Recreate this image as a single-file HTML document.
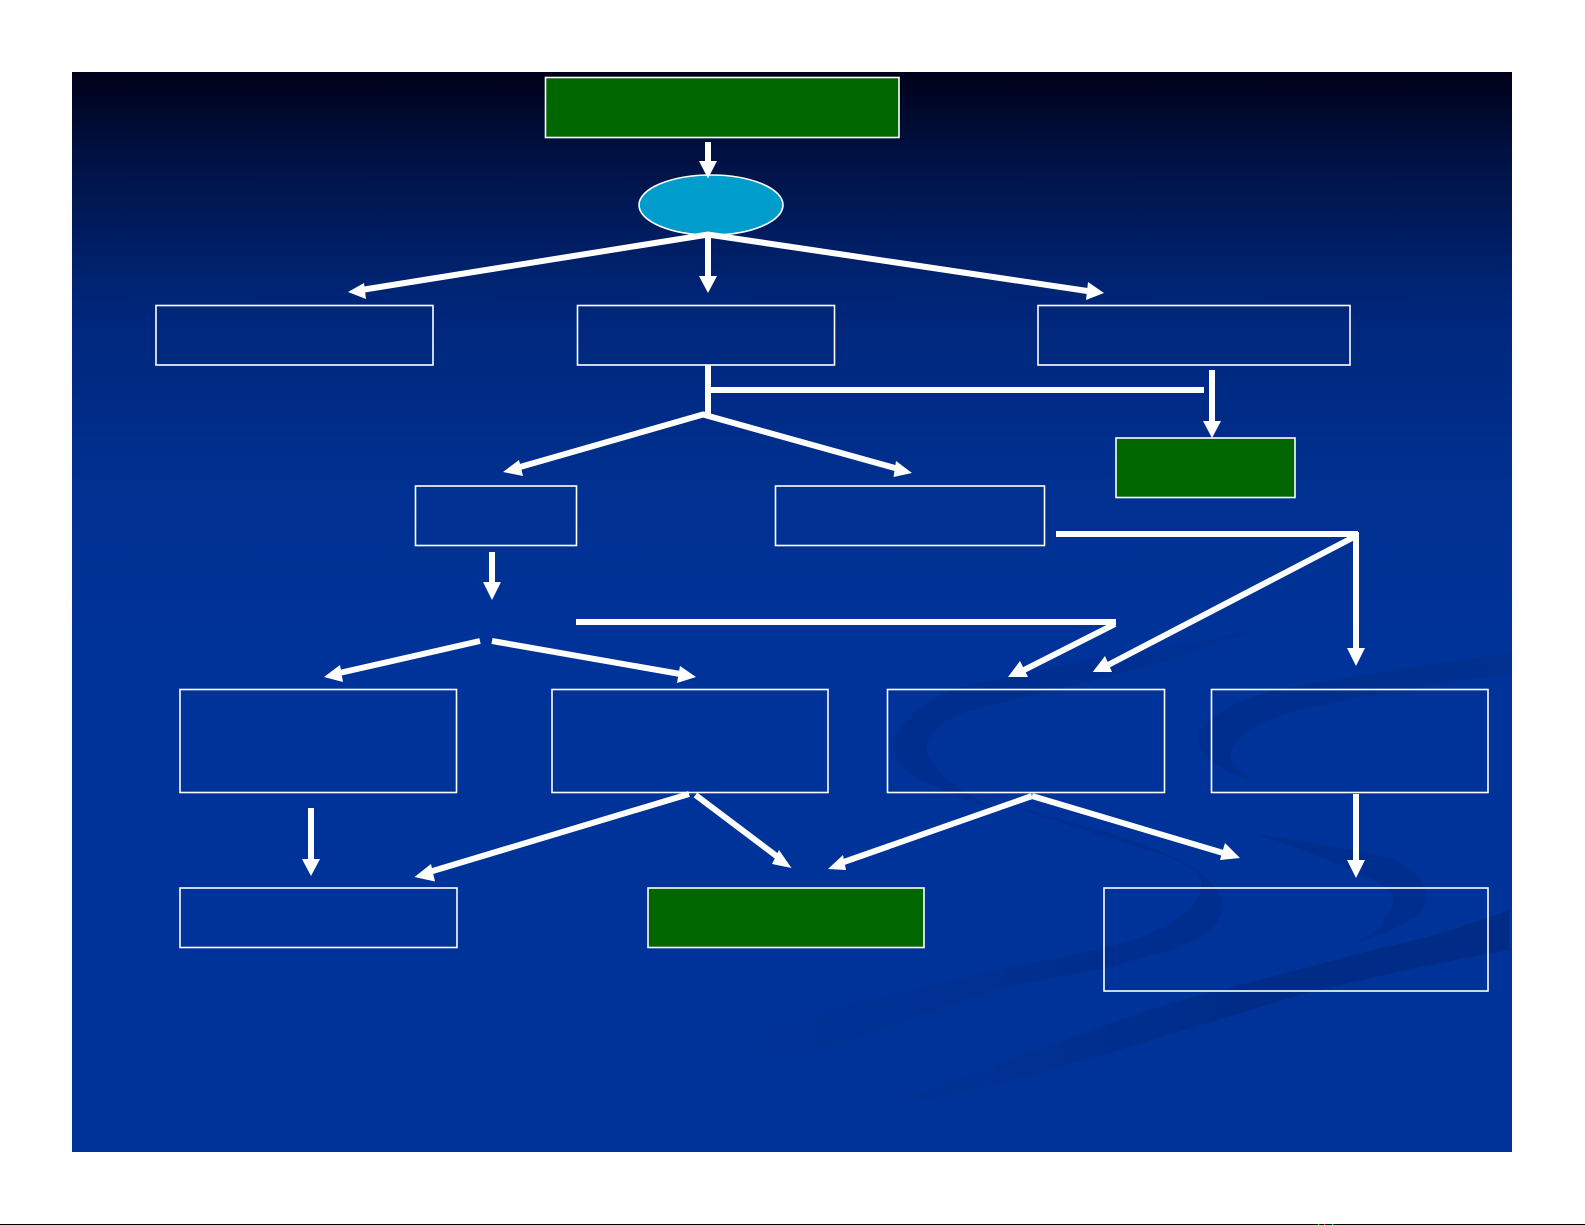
<!DOCTYPE html>
<html><head><meta charset="utf-8"><style>html,body{margin:0;padding:0;background:#fff}svg{display:block}</style></head><body>
<svg width="1585" height="1225" viewBox="0 0 1585 1225" xmlns="http://www.w3.org/2000/svg">
<defs><linearGradient id="bg" gradientUnits="userSpaceOnUse" x1="0" y1="72" x2="0" y2="1152">
<stop offset="0" stop-color="#000018"/><stop offset="0.07" stop-color="#00103f"/><stop offset="0.216" stop-color="#00267a"/><stop offset="0.38" stop-color="#003090"/><stop offset="0.53" stop-color="#003399"/><stop offset="1" stop-color="#003399"/></linearGradient>
<linearGradient id="fa" gradientUnits="userSpaceOnUse" x1="1512" y1="0" x2="1300" y2="0"><stop offset="0" stop-color="#00318f"/><stop offset="1" stop-color="#002e8e"/></linearGradient>
<linearGradient id="fe" gradientUnits="userSpaceOnUse" x1="0" y1="600" x2="0" y2="690"><stop offset="0" stop-color="#003298"/><stop offset="1" stop-color="#002e8f"/></linearGradient>
<linearGradient id="fb" gradientUnits="userSpaceOnUse" x1="1100" y1="0" x2="740" y2="0"><stop offset="0" stop-color="#002e8e"/><stop offset="1" stop-color="#003399"/></linearGradient>
<linearGradient id="fd" gradientUnits="userSpaceOnUse" x1="1250" y1="0" x2="860" y2="0"><stop offset="0" stop-color="#002c88"/><stop offset="1" stop-color="#003399"/></linearGradient>
</defs>
<rect width="1585" height="1225" fill="#fff"/>
<rect x="72" y="72" width="1440" height="1080" fill="url(#bg)"/>
<path d="M1512 652C1400 670 1340 678 1289 687C1250 695 1198 715 1198 740C1198 758 1230 775 1256 782C1240 772 1231 765 1231 757C1231 735 1260 722 1289 713C1340 700 1400 690 1512 673Z" fill="url(#fa)"/>
<path d="M1342 593C1290 615 1250 630 1248 630C1190 645 1130 650 1084 660L962 687C925 697 894 725 894 747C894 765 915 778 921 780C945 792 975 803 998 810C975 798 940 782 927 753C925 735 945 722 962 713L1084 683C1130 672 1170 660 1207 647C1270 625 1310 610 1342 593Z" fill="url(#fe)"/>
<path d="M713 1047C800 1015 880 995 951 980C1030 962 1100 952 1140 937C1180 922 1201 905 1201 883C1201 868 1175 858 1146 850L975 795C1040 812 1080 825 1110 833C1160 850 1222 870 1222 907C1222 925 1205 937 1189 943C1160 955 1130 960 1110 967C1050 980 1020 983 987 993C920 1015 850 1040 792 1060Z" fill="url(#fb)"/>
<path d="M1250 833C1310 842 1370 852 1396 860C1415 870 1427 885 1427 897C1427 910 1415 918 1409 920C1395 930 1375 937 1357 942C1370 935 1384 927 1384 920C1392 910 1393 905 1393 897C1393 888 1380 882 1366 877C1330 860 1290 845 1250 833Z" fill="#002e8e"/>
<path d="M1509 910C1460 928 1420 940 1384 947L1171 1003C1100 1025 1000 1065 926 1090L800 1125L926 1100C1000 1085 1050 1070 1110 1053L1293 997C1380 975 1450 960 1509 950Z" fill="url(#fd)"/>
<g fill="none" stroke="#fff" stroke-width="1.6">
<rect x="545.5" y="77.500" width="353.500" height="60" fill="#006600"/>
<ellipse cx="711" cy="205" rx="72" ry="30" fill="#009ccc"/>
<rect x="156" y="305.500" width="277" height="59.500"/>
<rect x="577.500" y="305.500" width="257" height="59.500"/>
<rect x="1038" y="305.500" width="312" height="59.500"/>
<rect x="1116" y="438" width="179" height="59.500" fill="#006600"/>
<rect x="415.500" y="486" width="161" height="59.500"/>
<rect x="775.500" y="486" width="269" height="59.500"/>
<rect x="180" y="689.500" width="276.500" height="103"/>
<rect x="552" y="689.500" width="276" height="103"/>
<rect x="887.500" y="689.500" width="277" height="103"/>
<rect x="1211.500" y="689.500" width="276.500" height="103"/>
<rect x="180" y="888" width="277" height="59.500"/>
<rect x="648" y="888" width="276" height="59.500" fill="#006600"/>
<rect x="1104" y="888" width="384" height="103"/>
</g>
<g fill="none" stroke="#fff" stroke-width="6">
<path d="M708 142V164"/>
<path d="M358 290.500L708 234.500L1094 292"/>
<path d="M708 233V278"/>
<path d="M708 365V414"/>
<path d="M708 390H1204"/>
<path d="M1212 370V423"/>
<path d="M513 469L703 414.500L902 470"/>
<path d="M492 552V584"/>
<path d="M576 622H1116"/>
<path d="M1056 534H1358"/>
<path d="M1356 532V650"/>
<path d="M1354 537L1108 665"/>
<path d="M1115 624L1024 670"/>
<path d="M480 641L335 674"/>
<path d="M492 641L686 675"/>
<path d="M311 808V861"/>
<path d="M689 794L426 873"/>
<path d="M695.500 795L783 861"/>
<path d="M1032 796L838 864"/>
<path d="M1032 796L1230 855"/>
<path d="M1356 794V862"/>
</g>
<g fill="#fff">
<path d="M699 161H717L708 178.500Z"/>
<path d="M699 276H717L708 293Z"/>
<path d="M348 292L364 283L366 299Z"/>
<path d="M1104 293L1088 282L1086 300Z"/>
<path d="M1203 421H1221L1212 438Z"/>
<path d="M503 472L519 460L523 476Z"/>
<path d="M912 473L896 461L893.500 477Z"/>
<path d="M483 582H501L492 600Z"/>
<path d="M1347 648H1365L1356 666Z"/>
<path d="M1092.700 672L1105 656L1112 672Z"/>
<path d="M1008 677L1020 661L1028 677Z"/>
<path d="M324 677L340 665L343 682Z"/>
<path d="M696 677L680 666L677 683Z"/>
<path d="M302 859H320L311 876Z"/>
<path d="M414.500 877L431 864L435 881.500Z"/>
<path d="M791.500 868L779 850L772 864Z"/>
<path d="M828 869L843 855L846 870Z"/>
<path d="M1240 858L1225 843L1220 860Z"/>
<path d="M1347 860H1365L1356 878Z"/>
</g>
<rect x="0" y="1224" width="1585" height="1" fill="#000"/>
<rect x="1318" y="1224" width="1" height="1" fill="#0f0"/>
<rect x="1324" y="1224" width="1" height="1" fill="#f44"/>
<rect x="1332" y="1224" width="1" height="1" fill="#0f0"/>
</svg>
</body></html>
